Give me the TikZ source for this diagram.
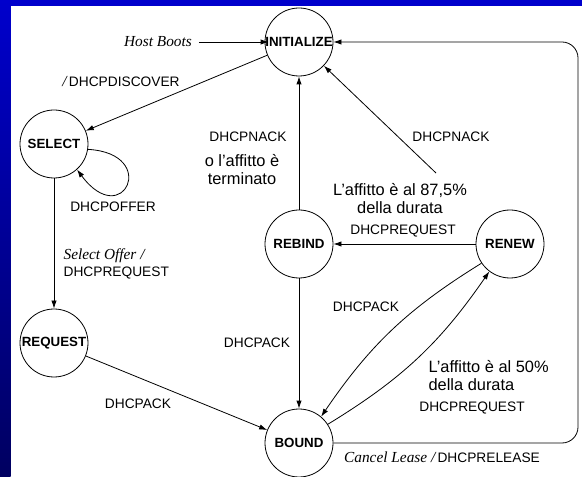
\documentclass[tikz,border=0pt]{standalone}
\usepackage{fontspec}
\setmainfont{Liberation Sans}
\newfontfamily\tms{Liberation Serif}
\usetikzlibrary{arrows.meta}
\definecolor{slideblue}{RGB}{0,0,204}
\definecolor{slidenavy}{RGB}{0,0,96}
\newcommand{\evt}[1]{{\tms\itshape\fontsize{11.5}{12.75}\selectfont #1}}
\tikzset{
  state/.style={circle,draw,line width=0.6pt,minimum size=51pt,inner sep=0pt,font=\fontsize{10}{12}\selectfont\bfseries},
  lbl/.style={inner sep=1pt,font=\fontsize{10.3}{12.75}\selectfont},
  big/.style={inner sep=1pt,align=center,font=\fontsize{12.3}{13.5}\selectfont},
  arr/.style={-{Latex[length=6pt,width=4pt]},line width=0.6pt}
}
\begin{document}
\begin{tikzpicture}[x=0.75pt,y=0.75pt]
% slide frame
\useasboundingbox (0,0) rectangle (582,-477);
\fill[white] (0,0) rectangle (582,-477);
\fill[slideblue] (0,0) rectangle (582,-5.7);
\shade[top color=slideblue,bottom color=slidenavy] (0,0) rectangle (10.7,-477);
% states
\foreach \n/\x/\y/\t in {init/299/42/INITIALIZE,select/54/144/SELECT,request/54/343/REQUEST,rebind/299/244/REBIND,renew/510/244/RENEW,bound/299/443/BOUND}
  \node[state] (\n) at (\x,-\y) {\t};
% labels
\node[lbl] (hb) at (158,-42) {\evt{Host Boots}};
\node[lbl] (discover) at (121,-82) {\evt{/}\,DHCPDISCOVER};
\node[lbl] (offer) at (113,-207) {DHCPOFFER};
\node[lbl,align=left,anchor=west] (selreq) at (62,-264) {\evt{Select Offer /}\\DHCPREQUEST};
\node[lbl] (ack1) at (138,-404) {DHCPACK};
\node[lbl] (nack1) at (248,-137) {DHCPNACK};
\node[big] (lease1) at (242,-170) {o l’affitto è\\terminato};
\node[lbl] (nack2) at (451,-137) {DHCPNACK};
\node[big] (t2) at (400,-199) {L’affitto è al 87,5\%\\della durata};
\node[lbl] (req2) at (403,-231) {DHCPREQUEST};
\node[lbl] (ack2) at (257,-343) {DHCPACK};
\node[lbl] (ack3) at (366,-307) {DHCPACK};
\node[big,align=left,anchor=west] (t1) at (427,-376) {L’affitto è al 50\%\\della durata};
\node[lbl] (req1) at (472,-408) {DHCPREQUEST};
\node[lbl] (cancel) at (442,-457) {\evt{Cancel Lease /}\,DHCPRELEASE};
\coordinate (top87) at (436,-173);
\coordinate (turn1) at (578,-443);
\coordinate (turn2) at (578,-42);
% transitions
\draw[arr,shorten <=4pt,shorten >=-3pt] (hb) -- (init);
\draw[arr] (init) -- (select);
\draw[arr] (select.-9) .. controls +(72,-4) and +(46,-62) .. (select.-48);
\draw[arr] (select) -- (request);
\draw[arr] (request) -- (bound);
\draw[arr] (rebind) -- (init);
\draw[arr] (rebind) -- (bound);
\draw[arr] (renew) -- (rebind);
\draw[arr] (top87) -- (init);
\draw[arr] (renew.214) to[bend right=12] (bound.50);
\draw[arr] (bound.33) to[bend right=12] (renew.233);
\draw[arr,rounded corners=12pt] (bound.east) -- (turn1) -- (turn2) -- (init.east);
\end{tikzpicture}
\end{document}
